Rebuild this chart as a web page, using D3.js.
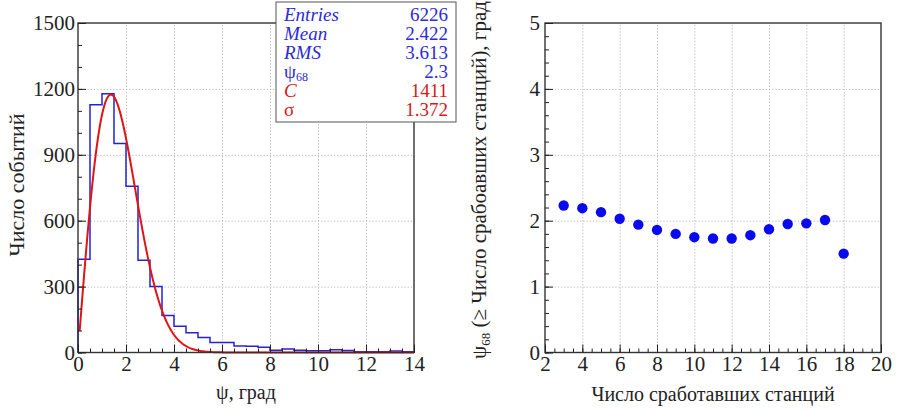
<!DOCTYPE html>
<html>
<head>
<meta charset="utf-8">
<script src="https://cdn.jsdelivr.net/npm/d3@7/dist/d3.min.js"></script>
<style>
  html, body { margin: 0; padding: 0; background: #fff; }
  svg { display: block; font-family: "Liberation Serif", "DejaVu Serif", serif; }
  .frame { fill: none; stroke: #333; stroke-width: 1.4; }
  .grid line { stroke: #b8b8b8; stroke-width: 1; stroke-dasharray: 1.2 2; }
  .grid path { display: none; }
  .ax path { display: none; }
  .ax line { stroke: #222; stroke-width: 1; }
  .ax text { font-family: "Liberation Serif", "DejaVu Serif", serif; font-size: 21px; fill: #222; }
</style>
</head>
<body>
<svg id="chart" width="901" height="411"></svg>
<script>
// Histogram of angular error psi (degrees), 0.5-degree bins
const psiBinEdges = [0, 0.5, 1, 1.5, 2, 2.5, 3, 3.5, 4, 4.5, 5, 5.5, 6, 6.5, 7,
                     7.5, 8, 8.5, 9, 9.5, 10, 10.5, 11, 11.5, 12, 12.5, 13, 13.5, 14];
const psiCounts = [425, 1128, 1178, 951, 757, 420, 300, 168, 120, 90, 68, 45, 45, 30,
                   28, 24, 10, 16, 10, 8, 8, 13, 9, 3, 3, 3, 7, 3];

// Statistics box
const statLabels = ["Entries", "Mean", "RMS", "ψ68", "C", "σ"];
const statValues = ["6226", "2.422", "3.613", "2.3", "1411", "1.372"];
const statItalic = [true, true, true, false, true, false];
const statColors = ["#2b2bd6", "#2b2bd6", "#2b2bd6", "#2b2bd6", "#d41a1a", "#d41a1a"];

// Fit parameters: f(psi) = C * psi * exp(-psi^2 / (2 sigma^2))
const fitC = 1411;
const fitSigma = 1.372;
const fitRange = [0.07, 14];

// psi68 versus number of triggered stations
const stations = [3, 4, 5, 6, 7, 8, 9, 10, 11, 12, 13, 14, 15, 16, 17, 18];
const psi68 = [2.23, 2.19, 2.13, 2.03, 1.94, 1.86, 1.80, 1.75, 1.73, 1.73, 1.78, 1.87, 1.95, 1.96, 2.01, 1.50];

// Axis ticks
const leftXTicks = [0, 2, 4, 6, 8, 10, 12, 14];
const leftYTicks = [0, 300, 600, 900, 1200, 1500];
const rightXTicks = [2, 4, 6, 8, 10, 12, 14, 16, 18, 20];
const rightYTicks = [0, 1, 2, 3, 4, 5];

const svg = d3.select("#chart");

const plotTop = 23, plotBottom = 352.5;
const xL = d3.scaleLinear().domain([0, 14]).range([78, 414]);
const yL = d3.scaleLinear().domain([0, 1500]).range([plotBottom, plotTop]);
const xR = d3.scaleLinear().domain([2, 20]).range([545, 881]);
const yR = d3.scaleLinear().domain([0, 5]).range([plotBottom, plotTop]);

function stepValues(a, b, step) {
  const out = [];
  for (let v = a; v <= b + 1e-9; v += step) out.push(+v.toFixed(6));
  return out;
}

// dotted grid at interior major ticks
function drawGrid(x, y, xTicks, yTicks) {
  const g = svg.append("g");
  const [x0, x1] = x.range();
  const h = plotBottom - plotTop, w = x1 - x0;
  g.append("g").attr("class", "grid").attr("transform", `translate(0,${plotBottom})`)
    .call(d3.axisBottom(x).tickValues(xTicks.slice(1, -1)).tickSize(-h).tickFormat(""));
  g.append("g").attr("class", "grid").attr("transform", `translate(${x0},0)`)
    .call(d3.axisLeft(y).tickValues(yTicks.slice(1, -1)).tickSize(-w).tickFormat(""));
}

// frame, inward ticks and tick labels
function drawAxes(x, y, xTicks, yTicks, xMinorStep, yMinorStep, yPad) {
  const g = svg.append("g");
  const [x0, x1] = x.range();
  const [xd0, xd1] = x.domain();
  const [yd0, yd1] = y.domain();
  g.append("rect").attr("class", "frame")
    .attr("x", x0).attr("y", plotTop).attr("width", x1 - x0).attr("height", plotBottom - plotTop);
  g.append("g").attr("class", "ax").attr("transform", `translate(0,${plotBottom})`)
    .call(d3.axisBottom(x).tickValues(stepValues(xd0, xd1, xMinorStep)).tickSize(-4).tickFormat(""));
  g.append("g").attr("class", "ax").attr("transform", `translate(${x0},0)`)
    .call(d3.axisLeft(y).tickValues(stepValues(yd0, yd1, yMinorStep)).tickSize(-4).tickFormat(""));
  g.append("g").attr("class", "ax").attr("transform", `translate(0,${plotBottom})`)
    .call(d3.axisBottom(x).tickValues(xTicks).tickSize(-8).tickPadding(4).tickFormat(d3.format("d")));
  g.append("g").attr("class", "ax").attr("transform", `translate(${x0},0)`)
    .call(d3.axisLeft(y).tickValues(yTicks).tickSize(-8).tickPadding(yPad).tickFormat(d3.format("d")));
  g.selectAll(".ax").attr("font-family", null);
}

// ---------- Left panel: psi histogram with fit ----------
drawGrid(xL, yL, leftXTicks, leftYTicks);

const histPts = [[psiBinEdges[0], 0]];
psiCounts.forEach((c, i) => {
  histPts.push([psiBinEdges[i], c]);
  histPts.push([psiBinEdges[i + 1], c]);
});
histPts.push([psiBinEdges[psiBinEdges.length - 1], 0]);
svg.append("path")
  .attr("d", d3.line().x(d => xL(d[0])).y(d => yL(d[1]))(histPts))
  .attr("fill", "none").attr("stroke", "#2222dd").attr("stroke-width", 1.5);

const fitFn = p => fitC * p * Math.exp(-p * p / (2 * fitSigma * fitSigma));
const fitPts = d3.range(0, 401).map(i => {
  const p = fitRange[0] + (fitRange[1] - fitRange[0]) * i / 400;
  return [p, fitFn(p)];
});
svg.append("path")
  .attr("d", d3.line().x(d => xL(d[0])).y(d => yL(d[1]))(fitPts))
  .attr("fill", "none").attr("stroke", "#e01414").attr("stroke-width", 2);

drawAxes(xL, yL, leftXTicks, leftYTicks, 0.5, 100, 3);

svg.append("text").attr("x", 246).attr("y", 399).attr("text-anchor", "middle")
  .style("font-size", "20px").attr("fill", "#222").text("ψ, град");
svg.append("text").attr("transform", "translate(24,185) rotate(-90)").attr("text-anchor", "middle")
  .style("font-size", "22px").attr("fill", "#222").text("Число событий");

// statistics box
const box = svg.append("g");
box.append("rect").attr("x", 276).attr("y", 2).attr("width", 180).attr("height", 120)
  .attr("fill", "#fff").attr("stroke", "#555").attr("stroke-width", 1);
statLabels.forEach((lab, i) => {
  const yb = 21 + i * 19;
  const t = box.append("text").attr("x", 284).attr("y", yb)
    .style("font-size", "19px").style("font-style", statItalic[i] ? "italic" : "normal")
    .attr("fill", statColors[i]);
  if (lab === "ψ68") {
    t.append("tspan").text("ψ");
    t.append("tspan").attr("dy", 3).style("font-size", "12px").text("68");
  } else {
    t.text(lab);
  }
  box.append("text").attr("x", 448).attr("y", yb).attr("text-anchor", "end")
    .style("font-size", "19px").attr("fill", statColors[i]).text(statValues[i]);
});

// ---------- Right panel: psi68 vs number of stations ----------
drawGrid(xR, yR, rightXTicks, rightYTicks);

svg.append("g").selectAll("circle").data(stations).join("circle")
  .attr("cx", d => xR(d))
  .attr("cy", (d, i) => yR(psi68[i]))
  .attr("r", 5.2)
  .attr("fill", "#0a0aee");

drawAxes(xR, yR, rightXTicks, rightYTicks, 0.5, 0.2, 5);

svg.append("text").attr("x", 713).attr("y", 401).attr("text-anchor", "middle")
  .style("font-size", "20px").attr("fill", "#222").text("Число сработавших станций");

const ry = svg.append("text").attr("transform", "translate(486,180) rotate(-90)")
  .attr("text-anchor", "middle").style("font-size", "21px").attr("fill", "#222");
ry.append("tspan").text("ψ");
ry.append("tspan").attr("dy", 4).style("font-size", "13px").text("68");
ry.append("tspan").attr("dy", -4).text(" (≥ Число срабоавших станций), град");
</script>
</body>
</html>
